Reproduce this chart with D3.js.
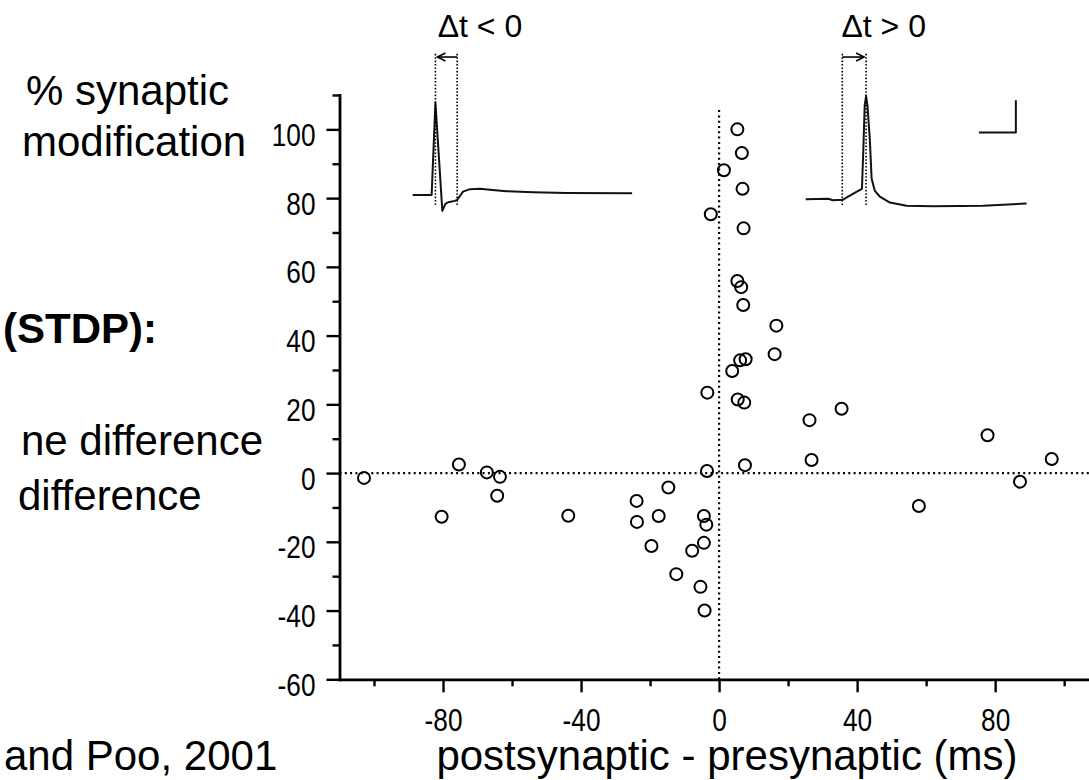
<!DOCTYPE html>
<html>
<head>
<meta charset="utf-8">
<script src="https://cdn.jsdelivr.net/npm/d3@7"></script>
<style>
  body { margin: 0; background: #fff; }
  svg { display: block; }
</style>
</head>
<body>
<div id="chart"></div>
<script>
// spike timing (post - pre, ms) vs % synaptic modification
var dtValues = [-102.9, -80.4, -75.4, -67.3, -63.5, -64.3, -43.7, -23.9, -23.8, -17.5,
                -14.7, -19.6, -12.4, -7.8, -4.4, -5.4, -4.2, -4.4, -3.7, -3.5,
                -3.4, -2.4, 1.4, 5.3, 6.6, 6.8, 7.1, 5.3, 6.4, 7.0,
                3.8, 6.1, 7.7, 5.4, 7.3, 7.5, 16.6, 16.1, 26.2, 26.8,
                35.5, 57.9, 77.8, 87.2, 96.4];
var changeValues = [-1.4, -12.7, 2.5, 0.2, -1.1, -6.6, -12.4, -8.1, -14.2, -12.5,
                    -4.2, -21.2, -29.4, -22.6, -20.3, -33.1, -40.0, -12.5, -15.0, 0.6,
                    23.4, 75.3, 88.1, 100.0, 93.1, 82.7, 71.2, 55.9, 54.1, 48.9,
                    29.7, 32.8, 33.1, 21.4, 20.5, 2.3, 42.9, 34.6, 15.4, 3.8,
                    18.7, -9.6, 11.0, -2.5, 4.1];

// example traces, placed in chart units
var traceLeftT = [-88.8, -83.3, -82.2, -80.2, -79.3, -78.5, -76.6, -75.9, -74.2, -72.2,
                  -69.3, -66.4, -61.6, -53.9, -44.2, -25.2];
var traceLeftV = [80.9, 80.9, 107.8, 76.3, 78.3, 78.8, 79.2, 79.5, 81.9, 82.6,
                  82.7, 82.4, 82.0, 81.7, 81.5, 81.4];
var traceRightT = [25.1, 31.6, 33.0, 35.8, 37.4, 39.8, 41.4, 41.8, 42.2, 42.6,
                   43.0, 43.7, 44.2, 45.1, 46.6, 49.5, 54.3, 62.0, 76.5, 89.1];
var traceRightV = [79.7, 79.8, 79.4, 79.5, 80.4, 81.8, 82.7, 93.9, 107.0, 109.6,
                   107.0, 96.8, 85.7, 82.2, 80.4, 78.7, 77.8, 77.6, 77.8, 78.4];
var scaleBarT = [75.3, 86.0, 86.0];
var scaleBarV = [99.1, 99.1, 108.5];

// timing markers (pre / post spike times) and their labels
var markerLeftT = [-82.2, -75.9];
var markerRightT = [35.7, 42.6];
var markerV = [78.0, 122.5];
var markerLabels = ["\u0394t < 0", "\u0394t > 0"];
var markerLabelT = [-69.3, 47.7];

var xMajor = [-80, -40, 0, 40, 80];
var xMinor = [-100, -60, -20, 20, 60, 100];
var yMajor = [-60, -40, -20, 0, 20, 40, 60, 80, 100];
var yMinor = [-50, -30, -10, 10, 30, 50, 70, 90, 110];

var width = 1089, height = 780;
var font = "'Liberation Sans', Arial, sans-serif";
var narrow = 0.82;   // tick labels in the figure use a condensed face

var svg = d3.select("#chart").append("svg")
      .attr("width", width)
      .attr("height", height);

var x = d3.scaleLinear().domain([-110, 107.2]).range([339.5, 1089]);
var y = d3.scaleLinear().domain([-60, 110]).range([679.3, 95]);

// zero lines
svg.append("line")
      .attr("x1", x(-110)).attr("x2", width)
      .attr("y1", y(0)).attr("y2", y(0))
      .attr("stroke", "#000").attr("stroke-width", 2.2)
      .attr("stroke-dasharray", "2,3.3");
svg.append("line")
      .attr("x1", x(0)).attr("x2", x(0))
      .attr("y1", y(105.6)).attr("y2", y(-60))
      .attr("stroke", "#000").attr("stroke-width", 2.2)
      .attr("stroke-dasharray", "2,3.3");

// axes
var plain = function (d) { return String(d); };

var gx = svg.append("g")
      .attr("transform", "translate(0," + y(-60) + ")")
      .call(d3.axisBottom(x).tickValues(xMajor).tickSize(13).tickSizeOuter(0).tickFormat(plain));
svg.append("g")
      .attr("transform", "translate(0," + y(-60) + ")")
      .call(d3.axisBottom(x).tickValues(xMinor).tickSize(7).tickFormat(""))
      .select(".domain").remove();
gx.selectAll("text")
      .attr("x", 0).attr("y", 52).attr("dy", 0)
      .attr("transform", "scale(" + narrow + ",1)")
      .attr("font-family", font).attr("font-size", 32).attr("fill", "#000");

var gy = svg.append("g")
      .attr("transform", "translate(" + x(-110) + ",0)")
      .call(d3.axisLeft(y).tickValues(yMajor).tickSize(13).tickSizeOuter(0).tickFormat(plain));
svg.append("g")
      .attr("transform", "translate(" + x(-110) + ",0)")
      .call(d3.axisLeft(y).tickValues(yMinor).tickSize(7).tickFormat(""))
      .select(".domain").remove();
gy.selectAll("text")
      .attr("x", -24 / narrow).attr("dy", "0.5em")
      .attr("transform", "scale(" + narrow + ",1)")
      .attr("font-family", font).attr("font-size", 32).attr("fill", "#000");

svg.selectAll(".domain").attr("stroke", "#000").attr("stroke-width", 2.8)
      .attr("stroke-linecap", "square");
svg.selectAll(".tick line").attr("stroke", "#000").attr("stroke-width", 2.4);

// data points
svg.append("g").selectAll("circle")
      .data(dtValues)
      .enter().append("circle")
      .attr("cx", function (d) { return x(d); })
      .attr("cy", function (d, i) { return y(changeValues[i]); })
      .attr("r", 6)
      .attr("fill", "none")
      .attr("stroke", "#000")
      .attr("stroke-width", 2);

// traces
var line = d3.line()
      .x(function (d) { return x(d[0]); })
      .y(function (d) { return y(d[1]); });

[[traceLeftT, traceLeftV], [traceRightT, traceRightV], [scaleBarT, scaleBarV]].forEach(function (tr) {
      svg.append("path")
            .datum(d3.zip(tr[0], tr[1]))
            .attr("d", line)
            .attr("fill", "none").attr("stroke", "#111").attr("stroke-width", 2)
            .attr("stroke-linejoin", "round");
});

// timing markers
[markerLeftT, markerRightT].forEach(function (m, k) {
      m.forEach(function (t) {
            svg.append("line")
                  .attr("x1", x(t)).attr("x2", x(t))
                  .attr("y1", y(markerV[0])).attr("y2", y(markerV[1]))
                  .attr("stroke", "#000").attr("stroke-width", 1.6)
                  .attr("stroke-dasharray", "1.6,1.8");
      });
      var yA = y(markerV[1]) + 5;
      var from = k == 0 ? m[1] : m[0];
      var to = k == 0 ? m[0] : m[1];
      var dir = k == 0 ? 1 : -1;
      svg.append("line")
            .attr("x1", x(from)).attr("x2", x(to) + dir * 2)
            .attr("y1", yA).attr("y2", yA)
            .attr("stroke", "#000").attr("stroke-width", 1.6);
      svg.append("path")
            .attr("d", "M" + (x(to) + dir * 10) + "," + (yA - 4) + "L" + (x(to) + dir * 2) + "," + yA +
                  "L" + (x(to) + dir * 10) + "," + (yA + 4))
            .attr("fill", "none").attr("stroke", "#000").attr("stroke-width", 1.6);
      svg.append("text")
            .attr("x", x(markerLabelT[k]))
            .attr("y", 37)
            .attr("text-anchor", "middle")
            .attr("font-family", font)
            .attr("font-size", 32)
            .text(markerLabels[k]);
});

// axis titles
svg.append("text").attr("x", 26).attr("y", 105)
      .attr("font-family", font).attr("font-size", 42).text("% synaptic");
svg.append("text").attr("x", 22).attr("y", 156)
      .attr("font-family", font).attr("font-size", 42).text("modification");
svg.append("text").attr("x", 727).attr("y", 770)
      .attr("text-anchor", "middle")
      .attr("font-family", font).attr("font-size", 42)
      .text("postsynaptic - presynaptic (ms)");

// slide text at the left edge
svg.append("text").attr("x", 157).attr("y", 343)
      .attr("text-anchor", "end").attr("font-weight", "bold")
      .attr("font-family", font).attr("font-size", 42).text("(STDP):");
svg.append("text").attr("x", 263).attr("y", 455)
      .attr("text-anchor", "end")
      .attr("font-family", font).attr("font-size", 42).text("ne difference");
svg.append("text").attr("x", 18).attr("y", 510)
      .attr("font-family", font).attr("font-size", 42).text("difference");
svg.append("text").attr("x", 4).attr("y", 770)
      .attr("font-family", font).attr("font-size", 42).text("and Poo, 2001");
</script>
</body>
</html>
